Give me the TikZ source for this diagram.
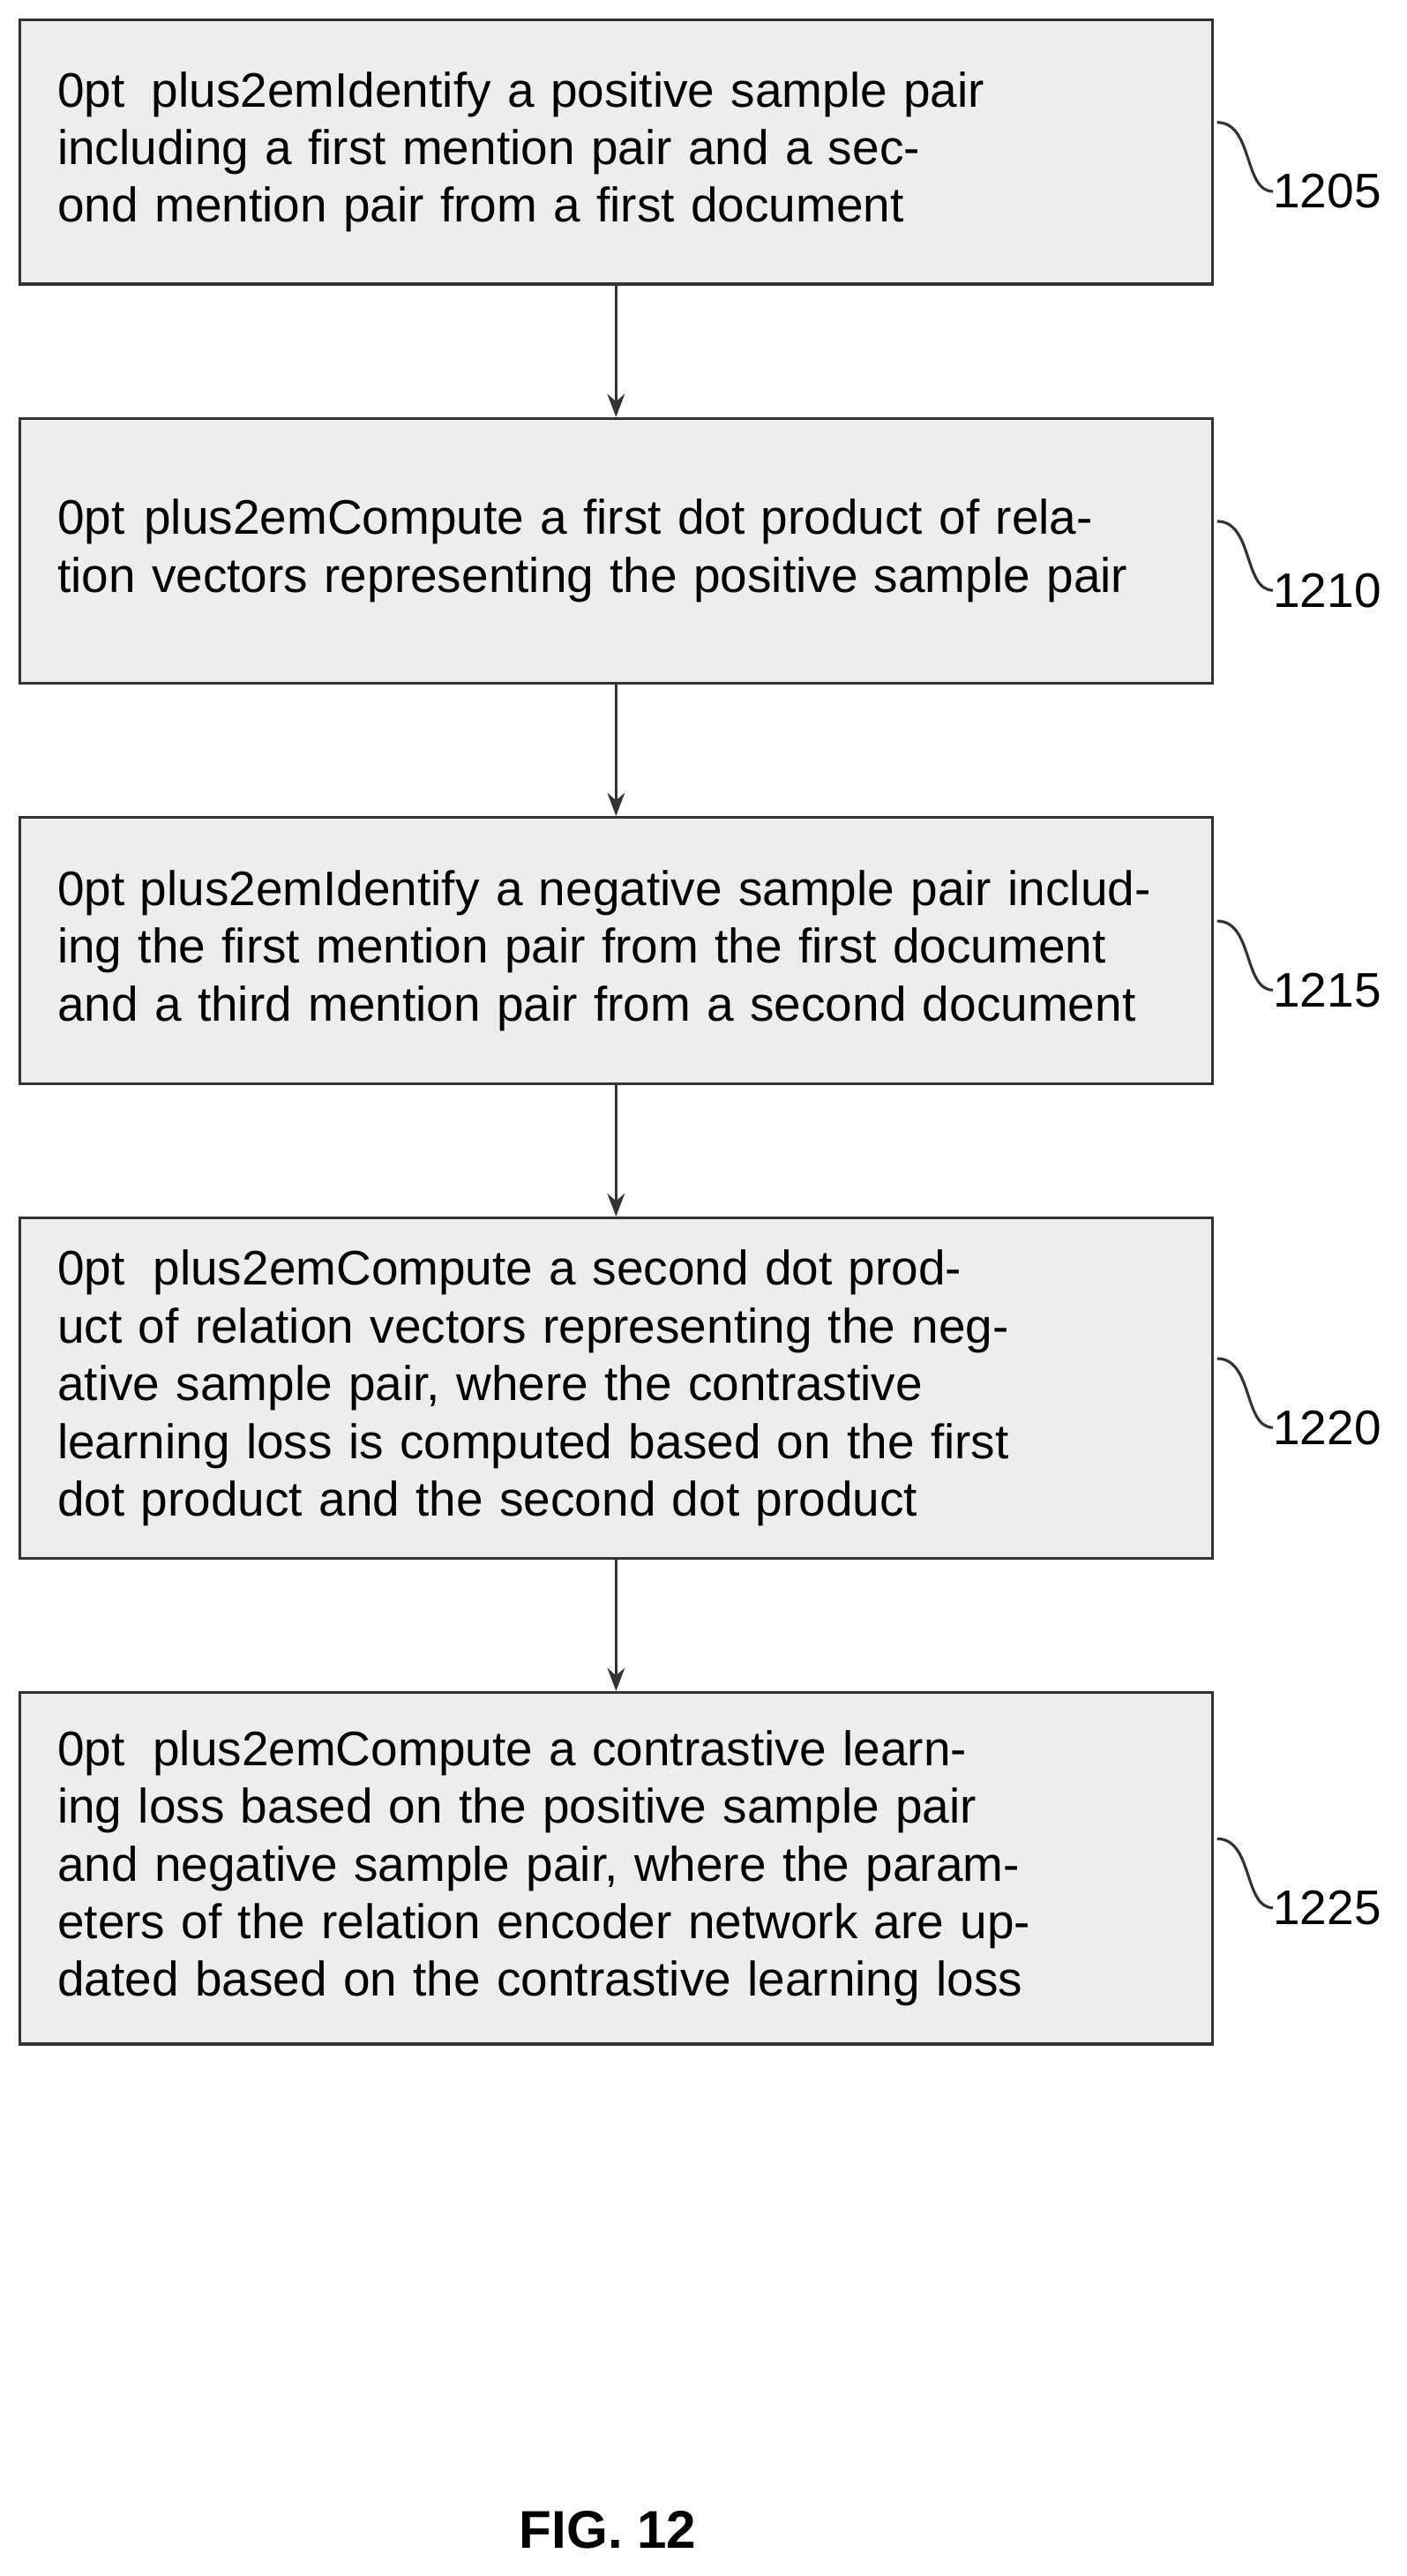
\documentclass[tikz,border=0pt]{standalone}
\usepackage{fontspec}
\setmainfont{Liberation Sans}
\usetikzlibrary{positioning,arrows.meta}
\tikzset{
  stepbox/.style={draw=black!80, line width=2.6pt, fill=black!7, text width=34cm, align=center,
    minimum width=36.3cm, inner sep=0pt, font=\fontsize{42}{50}\selectfont\hyphenpenalty=10000},
  flow/.style={-{Stealth[length=20pt,width=15pt]}, line width=2.6pt, black!80},
  tag/.style={anchor=west, inner sep=0pt, font=\fontsize{42}{50}\selectfont},
  lead/.style={line width=2.4pt, black!80}
}
\begin{document}
\begin{tikzpicture}[x=0.05cm,y=-0.05cm]
  \useasboundingbox (0,0) rectangle (856,1568);

  % Schritte
  \node[stepbox, minimum height=8.05cm] (s1) at (375,92.5) {Identify a positive sample pair including a first mention pair and a second mention pair from a first document};
  \node[stepbox, minimum height=8.05cm, below=4cm of s1] (s2) {Compute a first dot product of relation vectors representing the positive sample pair};
  \node[stepbox, minimum height=8.1cm, below=4cm of s2] (s3) {Identify a negative sample pair including the first mention pair from the first document and a third mention pair from a second document};
  \node[stepbox, minimum height=10.35cm, below=4cm of s3] (s4) {Compute a second dot product of relation vectors representing the negative sample pair, where the contrastive learning loss is computed based on the first dot product and the second dot product};
  \node[stepbox, minimum height=10.7cm, below=4cm of s4] (s5) {Compute a contrastive learning loss based on the positive sample pair and negative sample pair, where the parameters of the relation encoder network are updated based on the contrastive learning loss};

  % Pfeile
  \foreach \a/\b in {s1/s2,s2/s3,s3/s4,s4/s5}
    \draw[flow] (\a) -- (\b);

  % Bezugszeichen
  \foreach \s/\n in {s1/1205,s2/1210,s3/1215,s4/1220,s5/1225} {
    \coordinate (c\n) at ([xshift=0.1cm,yshift=0.9cm]\s.east);
    \node[tag] (t\n) at ([xshift=1.8cm,yshift=-1.2cm]\s.east) {\n};
    \draw[lead] (c\n) .. controls +(22,0) and +(-18,0) .. (t\n.west);
  }

  \node[font=\bfseries\fontsize{46}{52}\selectfont] (fig) at (370,1540) {FIG. 12};
\end{tikzpicture}
\end{document}
